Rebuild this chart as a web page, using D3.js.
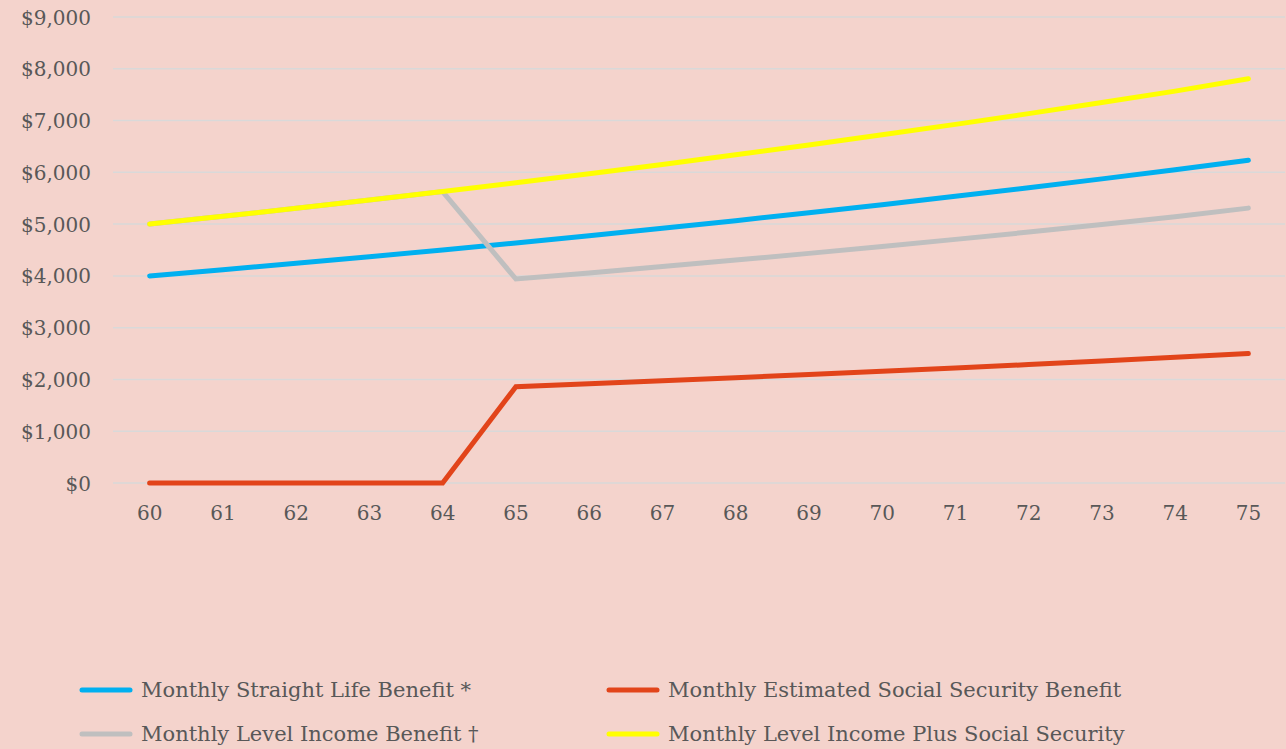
<!DOCTYPE html>
<html>
<head>
<meta charset="utf-8">
<script src="https://cdn.jsdelivr.net/npm/d3@7"></script>
<style>
  html, body { margin: 0; padding: 0; background: #F4D3CC; }
  svg { display: block; }
  text { font-family: "DejaVu Serif", serif; fill: #585858; }
</style>
</head>
<body>
<svg id="chart" width="1286" height="749"></svg>
<script>
// Ages along the horizontal axis
const ages = [60, 61, 62, 63, 64, 65, 66, 67, 68, 69, 70, 71, 72, 73, 74, 75];

// Monthly amounts in dollars, one value per age
const straightLife = [4000, 4120, 4244, 4371, 4502, 4637, 4776, 4919, 5067, 5219, 5376, 5537, 5703, 5874, 6050, 6232];
const socialSecurity = [0, 0, 0, 0, 0, 1860, 1916, 1973, 2033, 2094, 2156, 2221, 2288, 2356, 2427, 2500];
const levelIncome = [5000, 5150, 5305, 5464, 5628, 3940, 4058, 4180, 4306, 4435, 4568, 4705, 4846, 4991, 5141, 5309];
const levelPlusSS = [5000, 5150, 5305, 5464, 5628, 5800, 5974, 6153, 6339, 6529, 6724, 6926, 7134, 7347, 7568, 7809];

const yTicks = [0, 1000, 2000, 3000, 4000, 5000, 6000, 7000, 8000, 9000];

const series = [
  { name: "Monthly Straight Life Benefit *", values: straightLife, color: "#00B0F0" },
  { name: "Monthly Estimated Social Security Benefit", values: socialSecurity, color: "#E2441A" },
  { name: "Monthly Level Income Benefit \u2020", values: levelIncome, color: "#BFBFBF" },
  { name: "Monthly Level Income Plus Social Security", values: levelPlusSS, color: "#FFFF00" }
];

const svg = d3.select("#chart");
const plot = { left: 113, right: 1285, top: 17, bottom: 483 };

const x = d3.scaleBand().domain(ages).range([plot.left, plot.right]).padding(0);
const y = d3.scaleLinear().domain([0, 9000]).range([plot.bottom, plot.top]);
const cx = a => x(a) + x.bandwidth() / 2;

// Horizontal gridlines
svg.append("g")
  .selectAll("line")
  .data(yTicks)
  .join("line")
  .attr("x1", plot.left).attr("x2", plot.right)
  .attr("y1", d => y(d)).attr("y2", d => y(d))
  .attr("stroke", "#D9D9D9").attr("stroke-width", 1.5);

// Value axis labels
const fmt = d3.format("$,");
const yAxis = d3.axisLeft(y).tickValues(yTicks).tickFormat(fmt).tickSize(0).tickPadding(0);
const gy = svg.append("g").attr("transform", `translate(91,0)`).call(yAxis);
gy.select(".domain").remove();
gy.attr("font-family", null).attr("font-size", null);
gy.selectAll("text").style("font-size", "20px").attr("dy", "0.35em");

// Age axis labels
const xAxis = d3.axisBottom(x).tickSize(0).tickPadding(0);
const gx = svg.append("g").attr("transform", `translate(0,${plot.bottom})`).call(xAxis);
gx.select(".domain").remove();
gx.attr("font-family", null).attr("font-size", null);
gx.selectAll("text").style("font-size", "20px").attr("y", 30).attr("dy", "0.35em");

// Series lines, later series drawn on top
const line = d3.line().x((d, i) => cx(ages[i])).y(d => y(d));
svg.append("g")
  .selectAll("path")
  .data(series)
  .join("path")
  .attr("d", s => line(s.values))
  .attr("fill", "none")
  .attr("stroke", s => s.color)
  .attr("stroke-width", 5)
  .attr("stroke-linecap", "round")
  .attr("stroke-linejoin", "miter");

// Legend, two columns by two rows
const legendPos = [
  { x: 82, y: 690 }, { x: 609, y: 690 },
  { x: 82, y: 734 }, { x: 609, y: 734 }
];
const lg = svg.append("g")
  .selectAll("g")
  .data(series)
  .join("g")
  .attr("transform", (d, i) => `translate(${legendPos[i].x},${legendPos[i].y})`);
lg.append("line")
  .attr("x1", 0).attr("x2", 48)
  .attr("stroke", d => d.color).attr("stroke-width", 5).attr("stroke-linecap", "round");
lg.append("text")
  .attr("x", 59).attr("dy", "0.35em")
  .style("font-size", "21px")
  .text(d => d.name);
</script>
</body>
</html>
